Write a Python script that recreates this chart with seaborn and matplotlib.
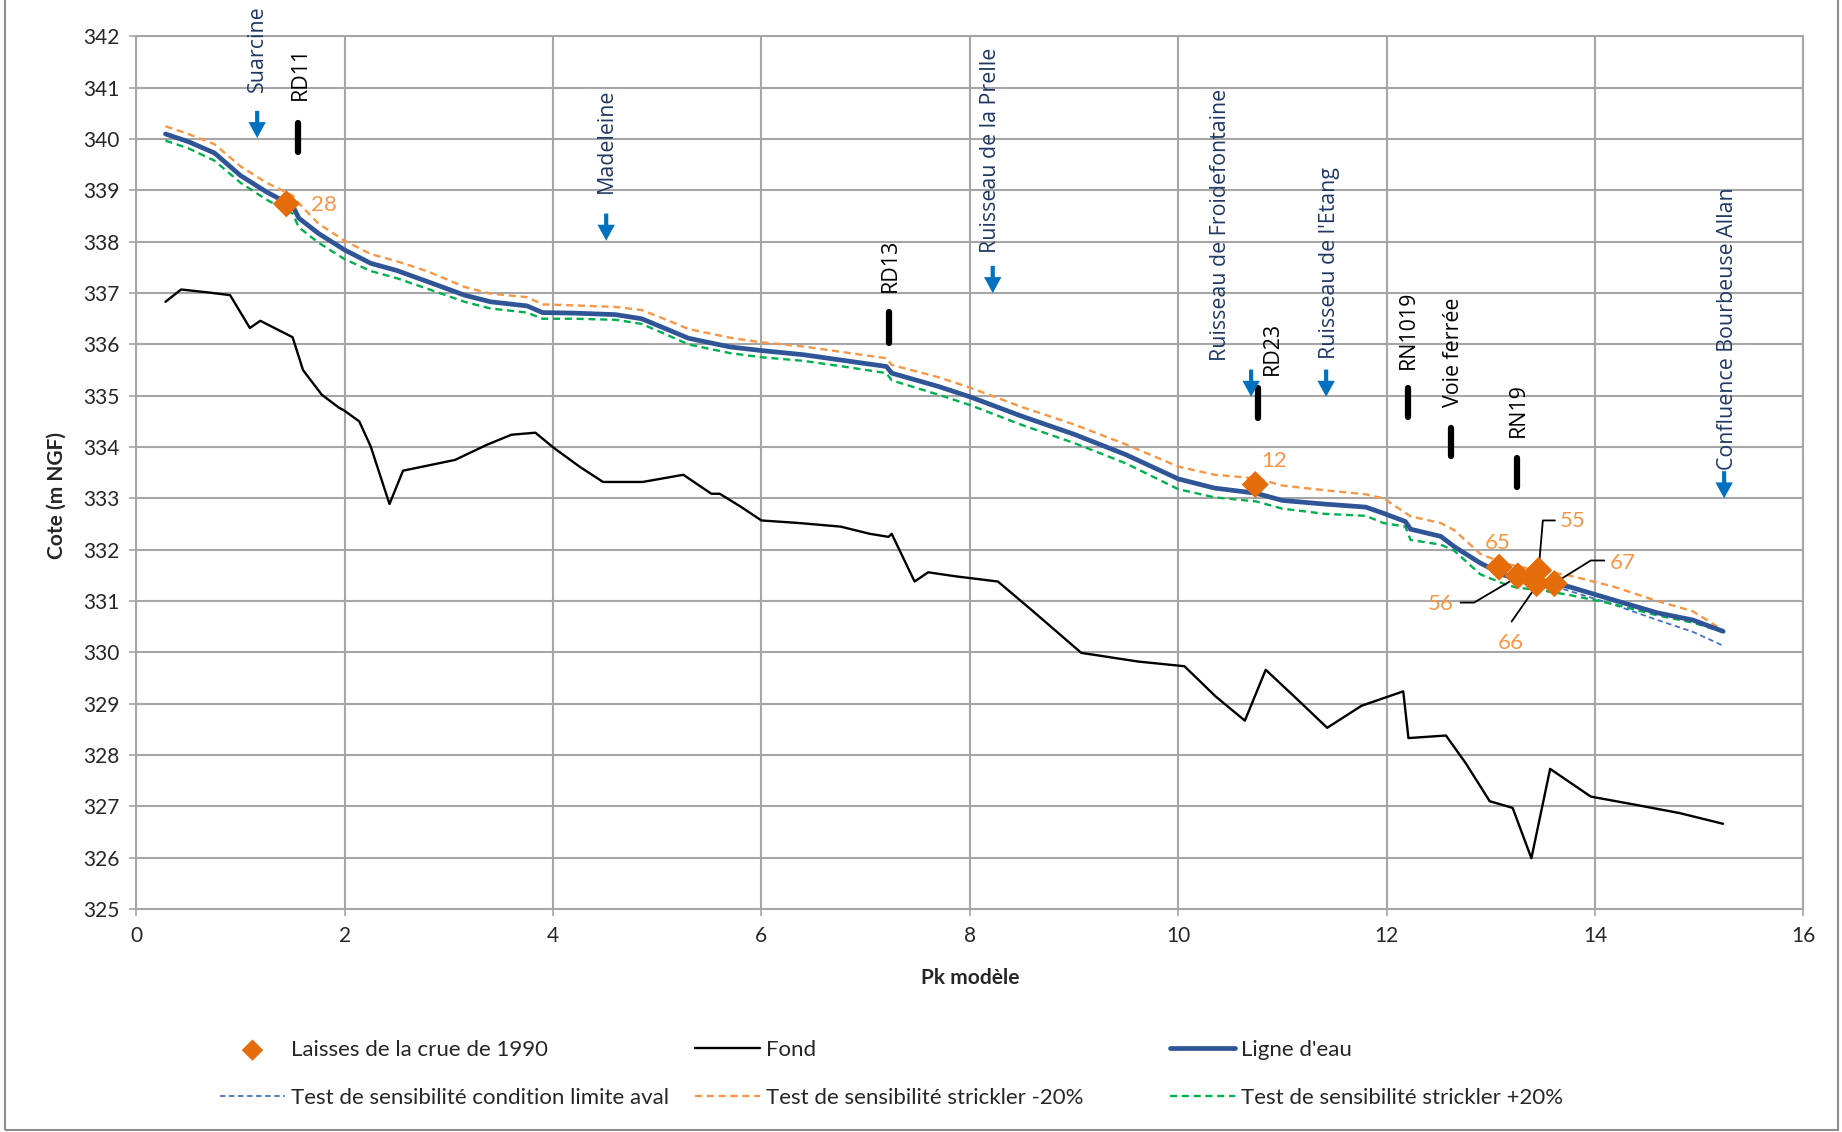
import matplotlib
matplotlib.use('Agg')
import matplotlib.pyplot as plt
from matplotlib.patches import Rectangle
import pandas as pd
import seaborn as sns

# profil en long
pk_fond = [0.28, 0.43, 0.70, 0.90, 1.09, 1.19, 1.50, 1.60, 1.78, 1.95,
           1.99, 2.14, 2.25, 2.43, 2.56, 2.68, 3.06, 3.36, 3.60, 3.83,
           4.01, 4.26, 4.48, 4.86, 5.25, 5.52, 5.60, 5.80, 6.00, 6.36,
           6.76, 7.04, 7.22, 7.25, 7.47, 7.60, 7.87, 8.27, 8.59, 9.07,
           9.62, 10.06, 10.36, 10.64, 10.84, 11.13, 11.43, 11.76, 12.16, 12.21,
           12.57, 12.76, 12.99, 13.21, 13.39, 13.57, 13.96, 14.39, 14.81, 15.23]
cote_fond = [336.83, 337.07, 337.01, 336.96, 336.32, 336.46, 336.14, 335.50, 335.02, 334.76,
             334.72, 334.50, 334.01, 332.89, 333.54, 333.59, 333.75, 334.04, 334.24, 334.28,
             333.98, 333.61, 333.32, 333.32, 333.46, 333.09, 333.09, 332.84, 332.57, 332.52,
             332.45, 332.31, 332.25, 332.31, 331.38, 331.56, 331.48, 331.38, 330.83, 329.99,
             329.82, 329.73, 329.14, 328.67, 329.66, 329.11, 328.53, 328.96, 329.24, 328.33,
             328.38, 327.84, 327.10, 326.97, 325.99, 327.73, 327.19, 327.03, 326.87, 326.66]

pk_ligne = [0.28, 0.50, 0.75, 1.00, 1.25, 1.50, 1.56, 1.75, 2.00, 2.25,
            2.50, 2.80, 3.15, 3.40, 3.75, 3.90, 4.20, 4.60, 4.85, 5.10,
            5.30, 5.70, 6.00, 6.40, 6.85, 7.20, 7.25, 7.70, 8.00, 8.50,
            9.00, 9.50, 10.00, 10.35, 10.75, 11.00, 11.40, 11.80, 11.97, 12.18,
            12.23, 12.52, 12.65, 12.90, 13.12, 13.25, 13.45, 13.75, 14.18, 14.60, 14.94, 15.23]
ligne_eau = [340.10, 339.95, 339.73, 339.29, 338.97, 338.70, 338.46, 338.16, 337.84, 337.58,
             337.44, 337.22, 336.96, 336.83, 336.75, 336.62, 336.61, 336.58, 336.50, 336.29,
             336.12, 335.95, 335.88, 335.80, 335.67, 335.57, 335.44, 335.18, 334.98, 334.60,
             334.25, 333.85, 333.38, 333.20, 333.10, 332.96, 332.89, 332.83, 332.71, 332.55,
             332.40, 332.26, 332.06, 331.74, 331.51, 331.43, 331.40, 331.28, 331.02, 330.77, 330.63, 330.41]
test_aval = [340.10, 339.95, 339.73, 339.29, 338.97, 338.70, 338.46, 338.16, 337.84, 337.58,
             337.44, 337.22, 336.96, 336.83, 336.75, 336.62, 336.61, 336.58, 336.50, 336.29,
             336.12, 335.95, 335.88, 335.80, 335.67, 335.57, 335.44, 335.18, 334.98, 334.60,
             334.25, 333.85, 333.38, 333.20, 333.10, 332.96, 332.89, 332.83, 332.71, 332.55,
             332.40, 332.26, 332.06, 331.74, 331.51, 331.43, 331.38, 331.20, 330.93, 330.63, 330.40, 330.13]
test_moins20 = [340.25, 340.10, 339.90, 339.47, 339.15, 338.90, 338.75, 338.35, 338.02, 337.76,
                337.62, 337.42, 337.12, 336.99, 336.92, 336.78, 336.76, 336.73, 336.67, 336.47,
                336.30, 336.13, 336.04, 335.96, 335.83, 335.73, 335.60, 335.36, 335.16, 334.78,
                334.44, 334.05, 333.62, 333.46, 333.39, 333.25, 333.16, 333.08, 333.00, 332.72,
                332.65, 332.52, 332.38, 331.92, 331.74, 331.68, 331.60, 331.50, 331.28, 331.00, 330.80, 330.43]
test_plus20 = [339.97, 339.82, 339.58, 339.15, 338.82, 338.55, 338.28, 337.98, 337.66, 337.43,
               337.29, 337.08, 336.83, 336.70, 336.62, 336.50, 336.50, 336.48, 336.40, 336.18,
               336.00, 335.83, 335.75, 335.68, 335.55, 335.44, 335.30, 335.02, 334.82, 334.43,
               334.08, 333.68, 333.18, 333.02, 332.94, 332.80, 332.70, 332.66, 332.52, 332.45,
               332.19, 332.10, 331.98, 331.52, 331.34, 331.26, 331.22, 331.12, 330.94, 330.72, 330.58, 330.40]

laisses_pk = [1.44, 10.74, 13.08, 13.26, 13.46, 13.44, 13.61]
laisses_cote = [338.74, 333.27, 331.66, 331.49, 331.60, 331.34, 331.34]
laisses_num = ['28', '12', '65', '56', '55', '66', '67']
num_pk = [1.80, 10.92, 13.07, 12.52, 13.79, 13.19, 14.27]
num_cote = [338.72, 333.73, 332.13, 330.95, 332.55, 330.18, 331.75]
# traits de rappel des numéros
rappels = {'56': ([13.24, 12.84, 12.71], [331.45, 330.97, 330.97]),
           '55': ([13.46, 13.50, 13.616], [331.62, 332.57, 332.57]),
           '66': ([13.44, 13.20], [331.30, 330.60]),
           '67': ([13.62, 13.96, 14.09], [331.36, 331.79, 331.79])}

affluents = ['Suarcine', 'Madeleine', 'Ruisseau de la Prelle',
             'Ruisseau de Froidefontaine', "Ruisseau de l'Etang", 'Confluence Bourbeuse Allan']
affluents_pk = [1.16, 4.51, 8.22, 10.70, 11.42, 15.24]
affluents_cote = [340.02, 338.02, 337.00, 334.98, 334.98, 333.00]
affluents_txt_pk = [1.16, 4.51, 8.20, 10.41, 11.45, 15.27]
affluents_txt_cote = [340.92, 338.95, 337.79, 335.67, 335.71, 333.56]

ouvrages = ['RD11', 'RD13', 'RD23', 'RN1019', 'Voie ferrée', 'RN19']
ouvrages_pk = [1.555, 7.227, 10.766, 12.206, 12.617, 13.25]
ouvrages_bas = [339.74, 336.02, 334.56, 334.59, 333.82, 333.22]
ouvrages_haut = [340.31, 336.64, 335.15, 335.15, 334.37, 333.78]
ouvrages_txt_pk = [1.57, 7.24, 10.906, 12.206, 12.64, 13.265]
ouvrages_txt_cote = [340.76, 337.03, 335.41, 335.53, 334.78, 334.19]

sns.set_theme(style='white')
plt.rcParams['font.family'] = ['Lato', 'DejaVu Sans']

df_fond = pd.DataFrame({'pk': pk_fond, 'cote': cote_fond})
df_eau = pd.DataFrame({'pk': pk_ligne, 'ligne': ligne_eau, 'aval': test_aval,
                       'moins20': test_moins20, 'plus20': test_plus20})
df_laisses = pd.DataFrame({'pk': laisses_pk, 'cote': laisses_cote})

fig = plt.figure(figsize=(18.42, 11.32), dpi=100)
ax = fig.add_axes([0.074, 0.197, 0.905, 0.7708])

sns.scatterplot(data=df_laisses, x='pk', y='cote', ax=ax, marker='D', s=190,
                color='#E46C0A', edgecolor='none', zorder=6, label='Laisses de la crue de 1990')
sns.lineplot(data=df_fond, x='pk', y='cote', ax=ax, sort=False, estimator=None,
             color='black', lw=1.7, label='Fond')
sns.lineplot(data=df_eau, x='pk', y='ligne', ax=ax, sort=False, estimator=None,
             color='#2F5597', lw=3.4, label="Ligne d'eau", zorder=4)
sns.lineplot(data=df_eau, x='pk', y='aval', ax=ax, sort=False, estimator=None,
             color='#4472C4', lw=1.3, dashes=(3, 2), label='Test de sensibilité condition limite aval', zorder=3)
sns.lineplot(data=df_eau, x='pk', y='moins20', ax=ax, sort=False, estimator=None,
             color='#F79646', lw=1.7, dashes=(3, 2), label='Test de sensibilité strickler -20%', zorder=3)
sns.lineplot(data=df_eau, x='pk', y='plus20', ax=ax, sort=False, estimator=None,
             color='#00B050', lw=1.7, dashes=(3, 2), label='Test de sensibilité strickler +20%', zorder=3)

handles, labels = ax.get_legend_handles_labels()
if ax.get_legend():
    ax.get_legend().remove()

# numéros des laisses
for num, x, y in zip(laisses_num, num_pk, num_cote):
    ax.text(x, y, num, color='#F79646', fontsize=16, ha='center', va='center')
for num, (xs, ys) in rappels.items():
    ax.plot(xs, ys, color='black', lw=1.3, zorder=5)

# affluents
for nom, x, y, xt, yt in zip(affluents, affluents_pk, affluents_cote, affluents_txt_pk, affluents_txt_cote):
    ax.annotate('', xy=(x, y), xytext=(x, y + 0.53),
                arrowprops=dict(arrowstyle='simple,head_length=1.15,head_width=1.25,tail_width=0.3',
                                fc='#0070C0', ec='none', mutation_scale=10, shrinkA=0, shrinkB=0))
    ax.text(xt, yt, nom, rotation=90, ha='center', va='bottom', color='#1F3864',
            fontsize=15.4, family='Open Sans')

# ouvrages
for nom, x, y0, y1, xt, yt in zip(ouvrages, ouvrages_pk, ouvrages_bas, ouvrages_haut,
                                  ouvrages_txt_pk, ouvrages_txt_cote):
    ax.plot([x, x], [y0, y1], color='black', lw=4.5, solid_capstyle='round')
    ax.text(xt, yt, nom, rotation=90, ha='center', va='bottom', color='black',
            fontsize=15.4, family='Open Sans')

ax.set_xlim(0, 16)
ax.set_ylim(325, 342)
ax.set_xticks(range(0, 17, 2))
ax.set_yticks(range(325, 343))
ax.grid(True, color='#A6A6A6', lw=1.5)
for s in ax.spines.values():
    s.set_color('#A6A6A6')
    s.set_linewidth(1.5)
ax.tick_params(axis='both', which='major', length=5, width=1.2, color='#A6A6A6',
               labelsize=15, labelcolor='#262626', pad=7, left=True, bottom=True)

ax.set_xlabel('Pk modèle', fontsize=15, fontweight='bold', color='#262626')
ax.set_ylabel('Cote (m NGF)', fontsize=15, fontweight='bold', color='#262626')
ax.xaxis.set_label_coords(0.5, -0.068)
ax.yaxis.set_label_coords(-0.042, 0.474)

# légende en trois colonnes de largeur égale
cols = [(0.1194, [0, 3]), (0.3773, [1, 4]), (0.6352, [2, 5])]
for x0, idx in cols:
    leg = fig.legend([handles[i] for i in idx], [labels[i] for i in idx], loc='upper left',
                     bbox_to_anchor=(x0, 0.0813), frameon=False, fontsize=16, borderpad=0,
                     borderaxespad=0, handlelength=2.93, handletextpad=0.27, labelspacing=1.26,
                     scatterpoints=1, labelcolor='#262626')
    if idx[0] == 0:
        leg.legend_handles[0].set_sizes([120])

fig.add_artist(Rectangle((0.0027, 0.0018), 0.9951, 1.2, transform=fig.transFigure,
                         fill=False, edgecolor='#8C8C8C', lw=1.5))

plt.savefig('out.png', dpi=100)
plt.close()
